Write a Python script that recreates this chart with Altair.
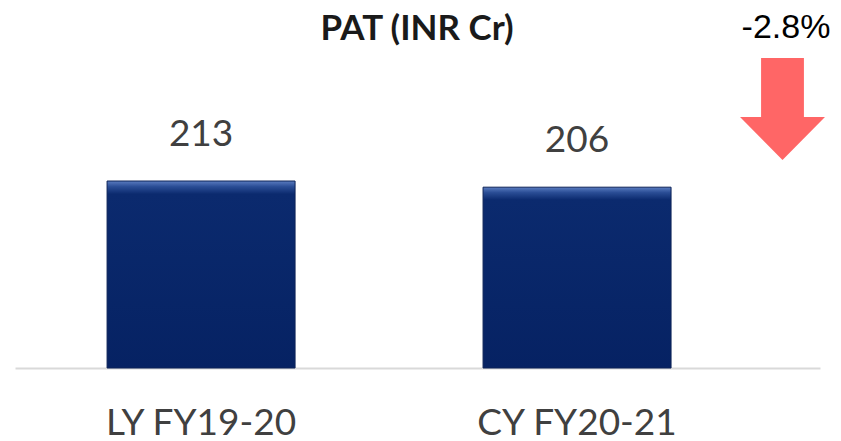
import altair as alt
import pandas as pd

categories = ["LY FY19-20", "CY FY20-21"]
values = [213, 206]
title_text = ["PAT (INR Cr)"]
change_text = ["-2.8%"]

bars_df = pd.DataFrame({"cat": categories, "val": values})

W, H = 805, 352

x = alt.X("cat:N", sort=categories,
          scale=alt.Scale(paddingInner=0.5, paddingOuter=0.3205, align=0.382),
          axis=alt.Axis(title=None, labelAngle=0, domainColor="#d9d9d9", domainWidth=2,
                        ticks=False, tickSize=0, labelFont="Lato", labelFontSize=37,
                        labelColor="#404040", labelPadding=66, labelBaseline="alphabetic",
                        labelLimit=0, grid=False))
y = alt.Y("val:Q", scale=alt.Scale(domain=[0, 401]), axis=None)

grad = alt.Gradient(
    gradient="linear", x1=0, x2=0, y1=0, y2=1,
    stops=[
        alt.GradientStop(color="#5a7cc0", offset=0),
        alt.GradientStop(color="#2a4d95", offset=0.03),
        alt.GradientStop(color="#0b2a6e", offset=0.07),
        alt.GradientStop(color="#062263", offset=1),
    ],
)

bars = alt.Chart(bars_df).mark_bar(color=grad, stroke="#0d2358", strokeWidth=1).encode(x=x, y=y)

labels = alt.Chart(bars_df).mark_text(
    font="Lato", fontSize=37, color="#404040", baseline="alphabetic", dy=-35
).encode(x=x, y=y, text="val:Q")

title = alt.Chart(pd.DataFrame({"t": title_text})).mark_text(
    font="Lato", fontWeight="bold", fontSize=35, color="#1a1a1a", baseline="alphabetic"
).encode(x=alt.value(402), y=alt.value(24), text="t:N")

change = alt.Chart(pd.DataFrame({"t": change_text})).mark_text(
    font="Liberation Sans", fontSize=34, color="#000000", baseline="alphabetic"
).encode(x=alt.value(771), y=alt.value(22), text="t:N")

arrow_path = "M -0.42 -1 L 0.42 -1 L 0.42 0.157 L 0.833 0.157 L 0 1 L -0.833 0.157 L -0.42 0.157 Z"
arrow = alt.Chart(pd.DataFrame({"t": change_text})).mark_point(
    shape=arrow_path, filled=True, color="#ff6666", opacity=1, size=102 * 102, strokeWidth=0
).encode(x=alt.value(767.5), y=alt.value(93))

chart = alt.layer(bars, labels, title, change, arrow).properties(
    width=W, height=H, autosize="none",
    padding={"left": 7, "top": 8, "right": 13, "bottom": 73},
).configure_view(stroke=None)

chart.save("out.html", embed_options={"renderer": "svg", "actions": False})
